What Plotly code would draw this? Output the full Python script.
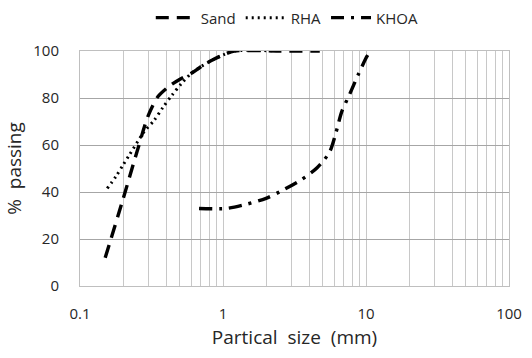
import plotly.graph_objects as go

sand_x = [0.15, 0.2, 0.25, 0.3, 0.35, 0.42, 0.5, 0.6, 0.7, 0.85, 1.0, 1.2, 2.36, 4.75]
sand_y = [12, 37, 57, 72.5, 80.5, 85, 88, 90.5, 93.3, 96.3, 98.3, 100, 100, 100]

rha_x = [0.155, 0.18, 0.2, 0.22, 0.28, 0.33, 0.38, 0.44, 0.51, 0.6, 0.7, 0.85, 1.0, 1.2, 2.36]
rha_y = [41.5, 47, 51.5, 55.5, 65.5, 70.5, 76, 81.2, 86, 90.5, 93.3, 96.3, 98.3, 100, 100]

khoa_x = [0.68, 1.06, 1.44, 2.0, 2.64, 3.5, 4.57, 5.57, 6.17, 6.77, 7.7, 8.8, 10.2, 10.8]
khoa_y = [33, 33, 34.7, 37.3, 40.9, 45.1, 50.4, 57.1, 65.3, 74.2, 81.7, 89.8, 97.9, 100]

x_ticks = [0.1, 1, 10, 100]
x_tick_labels = ["0.1", "1", "10", "100"]
y_ticks = [0, 20, 40, 60, 80, 100]

FONT = "Open Sans"
TXT = "#262626"

fig = go.Figure()
fig.add_trace(go.Scatter(x=sand_x, y=sand_y, name="Sand", mode="lines",
                         line=dict(color="black", width=3.4, dash="13px,8px", shape="spline", smoothing=0.8)))
fig.add_trace(go.Scatter(x=rha_x, y=rha_y, name="RHA", mode="lines",
                         line=dict(color="black", width=3, dash="2px,4px", shape="spline", smoothing=0.8)))
fig.add_trace(go.Scatter(x=khoa_x, y=khoa_y, name="KHOA", mode="lines",
                         line=dict(color="black", width=3.4, dash="13px,7px,3px,7px", shape="spline", smoothing=0.8)))

# log gridlines at 1..9 x each decade, labels only at decades
grid_vals = []
for dec in [0.1, 1, 10]:
    for m in range(1, 10):
        grid_vals.append(round(dec * m, 6))
grid_vals.append(100)
label_map = dict(zip(x_ticks, x_tick_labels))
grid_text = [label_map.get(v, "") for v in grid_vals]

fig.update_layout(
    width=532, height=358,
    margin=dict(l=80, r=23, t=51, b=72, autoexpand=False),
    paper_bgcolor="white", plot_bgcolor="white",
    font=dict(family=FONT, size=15, color=TXT),
    showlegend=True,
    legend=dict(orientation="h", x=0.54, xanchor="center", xref="container",
                y=0.95, yanchor="middle", yref="container",
                font=dict(family=FONT, size=15, color=TXT),
                itemwidth=40, tracegroupgap=0, bgcolor="rgba(0,0,0,0)"),
    xaxis=dict(type="log", range=[-1, 2], tickvals=grid_vals, ticktext=grid_text,
               showgrid=True, gridcolor="#c8c8c8", gridwidth=1,
               showline=True, linecolor="#bfbfbf", mirror=True, ticks="",
               zeroline=False, tickfont=dict(size=15), ticklabelstandoff=14,
               title=dict(text="Partical\u00a0 size\u00a0 (mm)", font=dict(size=19), standoff=8)),
    yaxis=dict(range=[0, 100], tickvals=y_ticks,
               showgrid=True, gridcolor="#a6a6a6", gridwidth=1,
               showline=True, linecolor="#bfbfbf", mirror=True, ticks="",
               zeroline=False, tickfont=dict(size=15), ticklabelstandoff=17,
               title=dict(text="%\u00a0 passing", font=dict(size=19), standoff=6)),
)

fig.write_html("out.html")
